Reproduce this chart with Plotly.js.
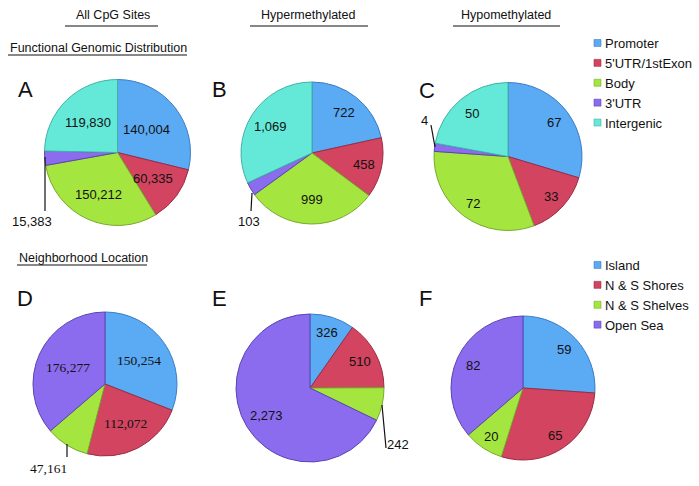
<!DOCTYPE html>
<html>
<head>
<meta charset="utf-8">
<script src="https://cdn.plot.ly/plotly-3.0.1.min.js"></script>
<style>html,body{margin:0;padding:0;background:#fff;overflow:hidden;}#chart{width:699px;height:486px;}</style>
</head>
<body>
<div id="chart"></div>
<script>
// ---- Data ----
const functionalLabels = ["Promoter", "5'UTR/1stExon", "Body", "3'UTR", "Intergenic"];
const allFunctional   = [140004, 60335, 150212, 15383, 119830];
const hyperFunctional = [722, 458, 999, 103, 1069];
const hypoFunctional  = [67, 33, 72, 4, 50];

const neighborhoodLabels = ["Island", "N & S Shores", "N & S Shelves", "Open Sea"];
const allNeighborhood   = [150254, 112072, 47161, 176277];
const hyperNeighborhood = [326, 510, 242, 2273];
const hypoNeighborhood  = [59, 65, 20, 82];

const columnTitles = ["All CpG Sites", "Hypermethylated", "Hypomethylated"];
const sectionTitles = ["Functional Genomic Distribution", "Neighborhood Location"];
const panelLetters = ["A", "B", "C", "D", "E", "F"];

// ---- Styles / layout ----
const W = 699, H = 486;
const funcColors = ["#5aaaf4", "#d2445f", "#a4e53f", "#8b6cef", "#64e9d9"];
const funcLines  = ["#3d7cc4", "#9a2c44", "#76ab2a", "#5a45b0", "#3fb3a6"];
const nbColors = ["#5aaaf4", "#d2445f", "#a4e53f", "#8b6cef"];
const nbLines  = ["#3d7cc4", "#9a2c44", "#76ab2a", "#5a45b0"];
const sans = "Liberation Sans, Arial, Helvetica, sans-serif";
const serif = "Liberation Serif, Times New Roman, serif";

// pie geometry in pixels: [cx, cy, r]
const geom = [
  [117.5, 152.5, 73], [312, 153, 71], [508, 156.5, 74],
  [105, 384, 72], [310, 388, 74], [523, 388, 72]
];
function dom(g) {
  const [cx, cy, r] = g;
  return { x: [(cx - r) / W, (cx + r) / W], y: [(H - cy - r) / H, (H - cy + r) / H] };
}
// inside label radial position (fraction of radius); null = labelled outside
const labelR = [
  [0.50, 0.60, 0.63, null, 0.58],
  [0.73, 0.75, 0.66, null, 0.69],
  [0.77, 0.80, 0.79, null, 0.75],
  [0.58, 0.62, null, 0.56],
  [0.78, 0.76, null, 0.70],
  [0.78, 0.79, 0.80, 0.76]
];

const pies = [
  { labels: functionalLabels, values: allFunctional, colors: funcColors, lines: funcLines, legend: "legend", font: sans },
  { labels: functionalLabels, values: hyperFunctional, colors: funcColors, lines: funcLines, legend: "legend", font: sans },
  { labels: functionalLabels, values: hypoFunctional, colors: funcColors, lines: funcLines, legend: "legend", font: sans },
  { labels: neighborhoodLabels, values: allNeighborhood, colors: nbColors, lines: nbLines, legend: "legend2", font: serif, fsize: 13.5 },
  { labels: neighborhoodLabels, values: hyperNeighborhood, colors: nbColors, lines: nbLines, legend: "legend2", font: sans },
  { labels: neighborhoodLabels, values: hypoNeighborhood, colors: nbColors, lines: nbLines, legend: "legend2", font: sans }
];

const data = pies.map((p, i) => ({
  type: "pie",
  labels: p.labels,
  values: p.values,
  sort: false,
  direction: "clockwise",
  rotation: 0,
  domain: dom(geom[i]),
  legend: p.legend,
  marker: { colors: p.colors, line: { color: p.lines, width: 1 } },
  textinfo: "none",
  hoverinfo: "label+value",
  showlegend: true
}));

const annotations = [];
const shapes = [];
const fmt = v => v.toLocaleString("en-US");

// slice value labels, placed at each slice's mid-angle
pies.forEach((p, i) => {
  const [cx, cy, r] = geom[i];
  const total = p.values.reduce((a, b) => a + b, 0);
  let cum = 0;
  p.values.forEach((v, k) => {
    const mid = (cum + v / 2) / total * 2 * Math.PI;
    cum += v;
    const f = labelR[i][k];
    if (f === null) return;
    const x = cx + f * r * Math.sin(mid), y = cy - f * r * Math.cos(mid);
    annotations.push({ text: fmt(v), xref: "paper", yref: "paper", x: x / W, y: 1 - y / H,
      showarrow: false, xanchor: "center", yanchor: "middle",
      font: { family: p.font, size: p.fsize || 13, color: "#111" } });
  });
});

// outside labels with leader lines
const outsideIdx = [3, 3, 3, 2, 2];
const leaderLines = [
  [[45, 157], [45, 211]],
  [[252, 193], [251, 211]],
  [[431, 125], [435, 147]],
  [[67, 444], [67, 457]],
  [[382, 405], [386, 448]]
];
const outTextPos = [[32, 221], [249, 221], [424, 120], [48, 468], [398, 444]];
outsideIdx.forEach((k, i) => {
  const p = pies[i];
  annotations.push({ text: fmt(p.values[k]), xref: "paper", yref: "paper",
    x: outTextPos[i][0] / W, y: 1 - outTextPos[i][1] / H, showarrow: false, xanchor: "center", yanchor: "middle",
    font: { family: p.font, size: p.fsize || 13, color: "#111" } });
  const [a, b] = leaderLines[i];
  shapes.push({ type: "line", xref: "paper", yref: "paper", x0: a[0] / W, y0: 1 - a[1] / H, x1: b[0] / W, y1: 1 - b[1] / H,
    line: { color: "#111", width: 1.2 } });
});

// column headers
const colCenters = [112.5, 308, 506];
const colLines = [[65, 158], [250, 368], [453, 560]];
columnTitles.forEach((t, i) => {
  annotations.push({ text: t, xref: "paper", yref: "paper", x: colCenters[i] / W, y: 1 - 15 / H,
    showarrow: false, xanchor: "center", yanchor: "middle", font: { family: sans, size: 12.5, color: "#111" } });
  shapes.push({ type: "line", xref: "paper", yref: "paper", x0: colLines[i][0] / W, x1: colLines[i][1] / W,
    y0: 1 - 26 / H, y1: 1 - 26 / H, line: { color: "#111", width: 1.2 } });
});
// section titles (underlined)
const secPos = [[8, 48, 187], [17, 258, 147]];
sectionTitles.forEach((t, i) => {
  const [x0, y, x1] = secPos[i];
  annotations.push({ text: t, xref: "paper", yref: "paper", x: x0 / W, y: 1 - y / H,
    showarrow: false, xanchor: "left", yanchor: "middle", font: { family: sans, size: 12.5, color: "#111" } });
  shapes.push({ type: "line", xref: "paper", yref: "paper", x0: x0 / W, x1: x1 / W,
    y0: 1 - (y + 7) / H, y1: 1 - (y + 7) / H, line: { color: "#111", width: 1 } });
});
// panel letters
const letterPos = [[25.5, 90], [219.5, 90], [427, 91], [24.5, 298], [219, 298], [425, 298]];
panelLetters.forEach((t, i) => {
  annotations.push({ text: t, xref: "paper", yref: "paper", x: letterPos[i][0] / W, y: 1 - letterPos[i][1] / H,
    showarrow: false, xanchor: "center", yanchor: "middle", font: { family: sans, size: 22, color: "#111" } });
});

const legendBase = { xanchor: "left", yanchor: "top", bgcolor: "rgba(0,0,0,0)", borderwidth: 0,
  font: { family: sans, size: 13, color: "#111" }, traceorder: "normal" };
const layout = {
  width: W, height: H,
  margin: { l: 0, r: 0, t: 0, b: 0, autoexpand: false },
  paper_bgcolor: "#fff",
  showlegend: true,
  legend: Object.assign({}, legendBase, { x: 565 / W, y: 1 - 28 / H }),
  legend2: Object.assign({}, legendBase, { x: 565 / W, y: 1 - 250 / H }),
  annotations: annotations,
  shapes: shapes
};

Plotly.newPlot("chart", data, layout, { displayModeBar: false, staticPlot: true }).then(() => {
  // smaller legend swatches, sitting close to their text
  document.querySelectorAll("#chart path.legendpie").forEach(el => {
    const t = el.getAttribute("transform") || "";
    el.setAttribute("transform", t + " translate(12.5,0) scale(0.58)");
  });
});
</script>
</body>
</html>
